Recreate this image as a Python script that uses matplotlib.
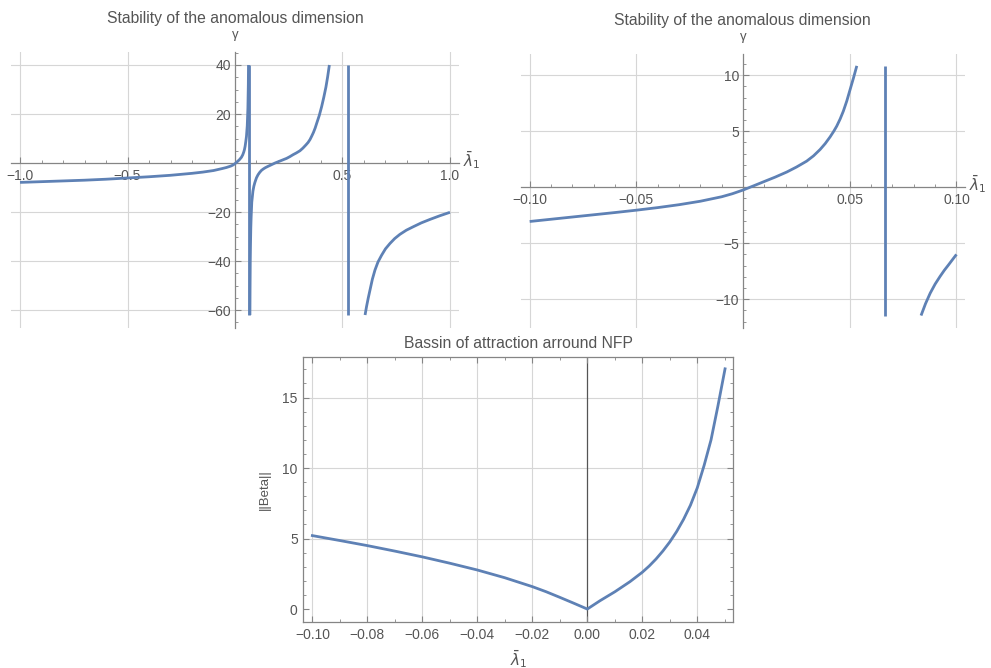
import matplotlib
matplotlib.use("Agg")
import matplotlib.pyplot as plt
from matplotlib.ticker import MultipleLocator, FixedLocator

plt.rcParams['font.family'] = ['Liberation Sans', 'DejaVu Sans']
plt.rcParams['mathtext.fontset'] = 'dejavusans'

# ---------------- data ----------------
# Panel 1: gamma vs lambda1 on [-1, 1]
p1_b1_x = [-1.0, -0.9, -0.8, -0.7, -0.6, -0.5, -0.4, -0.3, -0.2, -0.15, -0.1, -0.08, -0.06,
           -0.04, -0.02, -0.01, 0.0, 0.0103, 0.0205, 0.0298, 0.0361, 0.0408, 0.0439, 0.047,
           0.0502, 0.0533, 0.057, 0.060, 0.062, 0.0628]
p1_b1_y = [-7.9, -7.6, -7.3, -7.0, -6.6, -6.1, -5.6, -5.0, -4.2, -3.7, -3.06, -2.66, -2.26,
           -1.82, -1.25, -0.85, -0.25, 0.54, 1.36, 2.33, 3.37, 4.5, 5.46, 6.8,
           8.75, 10.84, 15.2, 22.4, 32.0, 40.0]
p1_b2_x = [0.0694, 0.0700, 0.0710, 0.0720, 0.0735, 0.0750, 0.0780, 0.0834, 0.0877, 0.0923,
           0.0963, 0.100, 0.107, 0.115, 0.123, 0.132, 0.141, 0.150, 0.168, 0.186, 0.200,
           0.220, 0.240, 0.255, 0.270, 0.285, 0.302, 0.316, 0.330, 0.340, 0.349, 0.357,
           0.365, 0.373, 0.380, 0.392, 0.403, 0.413, 0.423, 0.431, 0.439]
p1_b2_y = [-62.0, -51.7, -40.0, -33.6, -26.5, -22.2, -16.0, -11.46, -9.46, -7.97,
           -6.93, -6.0, -4.8, -3.8, -3.0, -2.4, -1.9, -1.5, -0.75, 0.0, 0.5,
           1.2, 1.9, 2.6, 3.4, 4.1, 5.0, 6.1, 7.4, 8.4, 9.6, 11.0,
           12.5, 14.3, 16.2, 19.4, 23.0, 26.8, 31.0, 35.2, 40.0]
p1_b3_x = [0.605, 0.612, 0.620, 0.628, 0.639, 0.651, 0.665, 0.682, 0.700, 0.721, 0.743,
           0.767, 0.797, 0.829, 0.867, 0.907, 0.953, 1.0]
p1_b3_y = [-62.0, -58.5, -55.0, -51.8, -47.4, -43.7, -40.4, -37.6, -35.0, -32.8, -30.8,
           -29.1, -27.4, -26.0, -24.4, -23.0, -21.5, -20.1]
p1_poles = [0.065, 0.524]
p1_range = [-62.0, 40.0]
p1_xticks = [-1.0, -0.5, 0.5, 1.0]
p1_xlabels = ['\u22121.0', '\u22120.5', '0.5', '1.0']
p1_yticks = [-60, -40, -20, 20, 40]
p1_ylabels = ['\u221260', '\u221240', '\u221220', '20', '40']

# Panel 2: zoom on [-0.1, 0.1]
p2_b1_x = [-0.100, -0.090, -0.080, -0.070, -0.060, -0.050, -0.040, -0.030, -0.020, -0.010,
           -0.005, 0.0, 0.005, 0.0103, 0.015, 0.0205, 0.025, 0.0298, 0.033, 0.0361, 0.0385,
           0.0408, 0.0425, 0.0439, 0.0455, 0.047, 0.0486, 0.0502, 0.0518, 0.0533]
p2_b1_y = [-3.06, -2.86, -2.66, -2.46, -2.26, -2.05, -1.82, -1.56, -1.25, -0.85,
           -0.58, -0.25, 0.13, 0.54, 0.90, 1.36, 1.80, 2.33, 2.80, 3.37, 3.90,
           4.50, 5.00, 5.46, 6.10, 6.80, 7.70, 8.75, 9.80, 10.84]
p2_b2_x = [0.0834, 0.0855, 0.0877, 0.0900, 0.0923, 0.0943, 0.0963, 0.0982, 0.100]
p2_b2_y = [-11.46, -10.40, -9.46, -8.65, -7.97, -7.42, -6.93, -6.45, -6.0]
p2_poles = [0.0663]
p2_range = [-11.46, 10.84]
p2_xticks = [-0.10, -0.05, 0.05, 0.10]
p2_xlabels = ['\u22120.10', '\u22120.05', '0.05', '0.10']
p2_yticks = [-10, -5, 5, 10]
p2_ylabels = ['\u221210', '\u22125', '5', '10']

# Panel 3: ||Beta|| vs lambda1
p3_x = [-0.100, -0.090, -0.080, -0.070, -0.060, -0.050, -0.040, -0.030, -0.020, -0.015,
        -0.010, -0.005, 0.0, 0.00462, 0.01006, 0.0155, 0.020, 0.0225, 0.025, 0.0275, 0.030,
        0.0325, 0.035, 0.0375, 0.040, 0.0425, 0.045, 0.0475, 0.0501]
p3_y = [5.21, 4.86, 4.50, 4.11, 3.70, 3.25, 2.77, 2.22, 1.59, 1.23,
        0.83, 0.42, 0.0, 0.59, 1.23, 1.94, 2.61, 3.05, 3.55, 4.12, 4.76,
        5.50, 6.36, 7.36, 8.60, 10.2, 12.0, 14.4, 17.04]
p3_xticks = [-0.10, -0.08, -0.06, -0.04, -0.02, 0.00, 0.02, 0.04]
p3_xlabels = ['\u22120.10', '\u22120.08', '\u22120.06', '\u22120.04', '\u22120.02', '0.00', '0.02', '0.04']
p3_yticks = [0, 5, 10, 15]

# ---------------- style ----------------
CURVE = '#5E81B5'
GRID = '#d6d6d6'
AXC = '#858585'
TXT = '#555555'
TTL = '#555555'
LW = 2.0
FS_T = 11.3
FS_K = 10

W, H = 991, 668
fig = plt.figure(figsize=(W / 100, H / 100), dpi=100)


def frac(l, r, t, b):
    return [l / W, 1 - b / H, (r - l) / W, (b - t) / H]


def axes_style(ax, xlim, ylim, xticks, xlabels, yticks, ylabels, xminor, yminor):
    ax.set_xlim(*xlim)
    ax.set_ylim(*ylim)
    for s in ['top', 'right']:
        ax.spines[s].set_visible(False)
    ax.spines['left'].set_position(('data', 0))
    ax.spines['bottom'].set_position(('data', 0))
    for s in ['left', 'bottom']:
        ax.spines[s].set_color(AXC)
        ax.spines[s].set_linewidth(0.9)
        ax.spines[s].set_zorder(1.5)
    ax.xaxis.set_major_locator(FixedLocator(xticks))
    ax.set_xticklabels(xlabels)
    ax.yaxis.set_major_locator(FixedLocator(yticks))
    ax.set_yticklabels(ylabels)
    ax.xaxis.set_minor_locator(MultipleLocator(xminor))
    ax.yaxis.set_minor_locator(MultipleLocator(yminor))
    ax.tick_params(which='both', direction='in', color=AXC, labelcolor=TXT, labelsize=FS_K)
    ax.tick_params(which='major', length=4.5, width=0.8, pad=3)
    ax.tick_params(axis='x', which='major', pad=4)
    ax.tick_params(which='minor', length=2.5, width=0.6)
    for v in xticks:
        ax.axvline(v, color=GRID, lw=0.8, zorder=0)
    for v in yticks:
        ax.axhline(v, color=GRID, lw=0.8, zorder=0)
    ax.patch.set_alpha(0)


# ---- Panel 1 ----
ax1 = fig.add_axes(frac(11, 459, 52, 328))
axes_style(ax1, (-1.042, 1.042), (-67.3, 45.3), p1_xticks, p1_xlabels, p1_yticks, p1_ylabels, 0.1, 5)
for bx, by in [(p1_b1_x, p1_b1_y), (p1_b2_x, p1_b2_y), (p1_b3_x, p1_b3_y)]:
    ax1.plot(bx, by, color=CURVE, lw=LW, solid_capstyle='butt', zorder=3)
for px in p1_poles:
    ax1.plot([px, px], p1_range, color=CURVE, lw=LW, solid_capstyle='butt', zorder=3)
ax1.set_title('Stability of the anomalous dimension', fontsize=FS_T, color=TTL, pad=21)
ax1.annotate('\u03b3', xy=(0, 1), xycoords=('data', 'axes fraction'), xytext=(0, 12),
             textcoords='offset points', ha='center', va='center', fontsize=FS_K - 0.5, color=TXT)
ax1.annotate(r'$\bar{\lambda}_1$', xy=(1, 0), xycoords=('axes fraction', 'data'), xytext=(3, 2),
             textcoords='offset points', ha='left', va='center', fontsize=FS_K + 1, color=TXT)

# ---- Panel 2 ----
ax2 = fig.add_axes(frac(520.7, 965, 54, 328.3))
axes_style(ax2, (-0.1042, 0.104), (-12.6, 11.9), p2_xticks, p2_xlabels, p2_yticks, p2_ylabels, 0.01, 1)
for bx, by in [(p2_b1_x, p2_b1_y), (p2_b2_x, p2_b2_y)]:
    ax2.plot(bx, by, color=CURVE, lw=LW, solid_capstyle='butt', zorder=3)
for px in p2_poles:
    ax2.plot([px, px], p2_range, color=CURVE, lw=LW, solid_capstyle='butt', zorder=3)
ax2.set_title('Stability of the anomalous dimension', fontsize=FS_T, color=TTL, pad=21)
ax2.annotate('\u03b3', xy=(0, 1), xycoords=('data', 'axes fraction'), xytext=(0, 12),
             textcoords='offset points', ha='center', va='center', fontsize=FS_K - 0.5, color=TXT)
ax2.annotate(r'$\bar{\lambda}_1$', xy=(1, 0), xycoords=('axes fraction', 'data'), xytext=(3, 2),
             textcoords='offset points', ha='left', va='center', fontsize=FS_K + 1, color=TXT)

# ---- Panel 3 ----
ax3 = fig.add_axes(frac(303.3, 733.3, 356.7, 622.3))
ax3.set_xlim(-0.1033, 0.0531)
ax3.set_ylim(-0.94, 17.9)
for s in ax3.spines.values():
    s.set_color(AXC)
    s.set_linewidth(0.9)
ax3.xaxis.set_major_locator(FixedLocator(p3_xticks))
ax3.set_xticklabels(p3_xlabels)
ax3.yaxis.set_major_locator(FixedLocator(p3_yticks))
ax3.xaxis.set_minor_locator(MultipleLocator(0.01))
ax3.yaxis.set_minor_locator(MultipleLocator(1))
ax3.tick_params(which='both', direction='in', top=True, right=True, color=AXC,
                labelcolor=TXT, labelsize=FS_K)
ax3.tick_params(which='major', length=4.5, width=0.8, pad=4)
ax3.tick_params(which='minor', length=2.5, width=0.6)
for v in p3_xticks:
    if v != 0:
        ax3.axvline(v, color=GRID, lw=0.8, zorder=0)
for v in p3_yticks[1:]:
    ax3.axhline(v, color=GRID, lw=0.8, zorder=0)
ax3.axvline(0, color='#555555', lw=0.9, zorder=1)
ax3.plot(p3_x, p3_y, color=CURVE, lw=LW, zorder=3)
ax3.set_title('Bassin of attraction arround NFP', fontsize=FS_T, color=TTL, pad=6)
ax3.set_ylabel('||Beta||', fontsize=FS_K - 0.5, color=TXT)
ax3.yaxis.set_label_coords(-0.075, 0.5)
ax3.set_xlabel(r'$\bar{\lambda}_1$', fontsize=FS_K + 1, color=TXT, va='center')
ax3.xaxis.set_label_coords(0.5, -0.138)

fig.savefig('out.png', dpi=100)
